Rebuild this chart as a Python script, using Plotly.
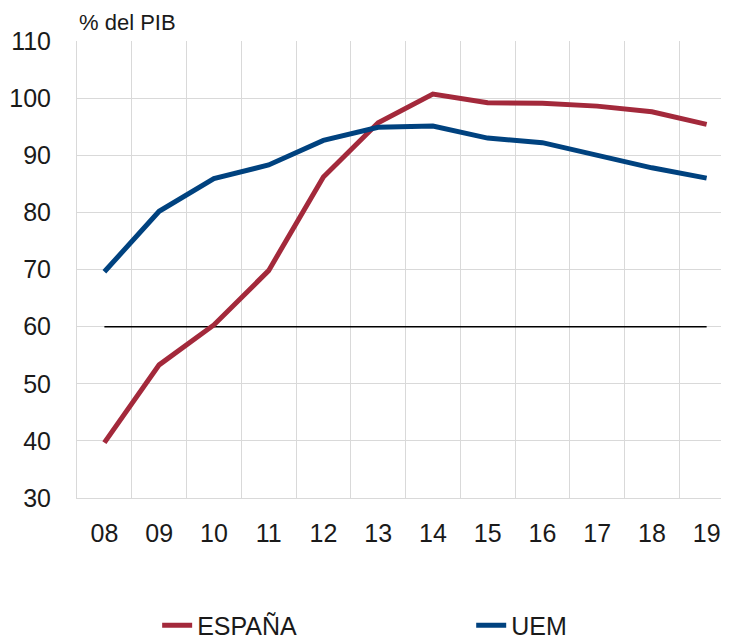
import plotly.graph_objects as go

years = ["08", "09", "10", "11", "12", "13", "14", "15", "16", "17", "18", "19"]
espana = [39.7, 53.3, 60.3, 69.8, 86.2, 95.7, 100.7, 99.2, 99.1, 98.6, 97.6, 95.4]
uem = [69.6, 80.2, 85.9, 88.3, 92.6, 94.9, 95.1, 93.0, 92.2, 89.9, 87.8, 86.0]
reference_level = [60] * len(years)
y_ticks = [30, 40, 50, 60, 70, 80, 90, 100, 110]

FONT = "Liberation Sans, Arial, sans-serif"
TXT = "#1a1a1a"
GRID = "#d9d9d9"

fig = go.Figure()
fig.add_trace(go.Scatter(x=years, y=reference_level, mode="lines",
                         line=dict(color="black", width=1.5),
                         showlegend=False, hoverinfo="skip"))
fig.add_trace(go.Scatter(x=years, y=espana, mode="lines", name="ESPAÑA",
                         line=dict(color="#a3293b", width=5), legend="legend"))
fig.add_trace(go.Scatter(x=years, y=uem, mode="lines", name="UEM",
                         line=dict(color="#00427f", width=5), legend="legend2"))

fig.update_layout(
    width=729, height=641,
    margin=dict(l=69, r=3, t=33, b=151, autoexpand=False),
    paper_bgcolor="white", plot_bgcolor="white",
    font=dict(family=FONT, size=25, color=TXT),
    xaxis=dict(type="category", range=[-0.5, 11.5], tickson="boundaries",
               showgrid=True, gridcolor=GRID, gridwidth=1,
               showline=True, linecolor=GRID, linewidth=1,
               ticks="", ticklabelstandoff=13, automargin=False,
               tickfont=dict(size=25, color=TXT)),
    yaxis=dict(range=[30, 110], tickvals=y_ticks,
               showgrid=True, gridcolor=GRID, gridwidth=1,
               showline=True, linecolor=GRID, linewidth=1,
               zeroline=False, ticks="", ticklabelstandoff=20, automargin=False,
               tickfont=dict(size=25, color=TXT)),
    legend=dict(orientation="h", x=0.122, xanchor="left", y=-0.279, yanchor="middle",
                font=dict(size=25, color=TXT), bgcolor="rgba(0,0,0,0)"),
    legend2=dict(orientation="h", x=0.6, xanchor="left", y=-0.279, yanchor="middle",
                 font=dict(size=25, color=TXT), bgcolor="rgba(0,0,0,0)"),
    annotations=[dict(text="% del PIB", xref="paper", yref="paper", x=0, y=1,
                      xanchor="left", yanchor="bottom", yshift=4, showarrow=False,
                      font=dict(size=22, color=TXT))],
)

fig.write_html("out.html")
